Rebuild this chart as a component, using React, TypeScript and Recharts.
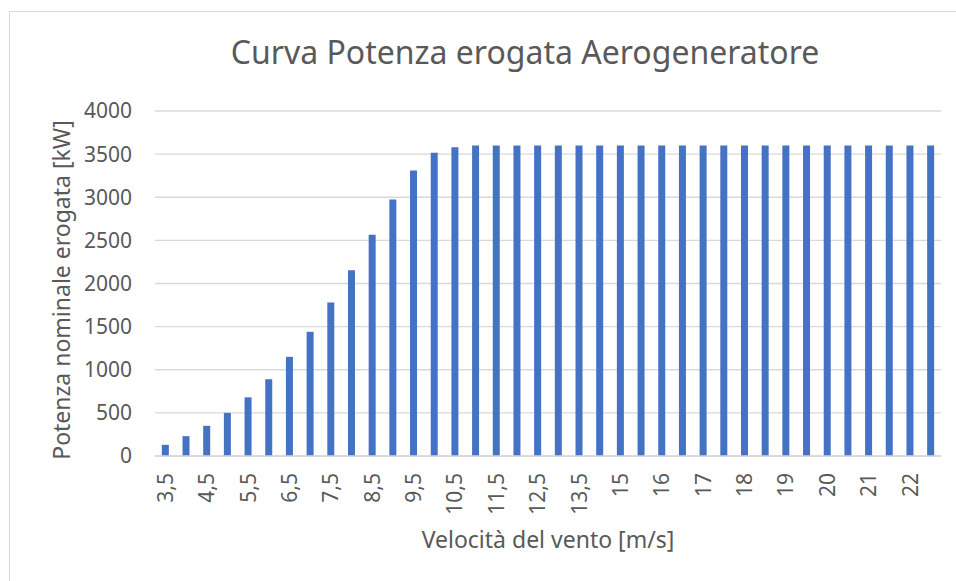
import React from 'react';
import { BarChart, Bar, XAxis, YAxis, CartesianGrid } from 'recharts';

// wind speed classes [m/s] and delivered power [kW]
const windSpeeds = [
  3.5, 4, 4.5, 5, 5.5, 6, 6.5, 7, 7.5, 8, 8.5, 9, 9.5, 10, 10.5, 11, 11.5, 12, 12.5, 13,
  13.5, 14, 15, 15.5, 16, 16.5, 17, 17.5, 18, 18.5, 19, 19.5, 20, 20.5, 21, 21.5, 22, 22.5,
];
const powerKw = [
  130, 230, 350, 500, 680, 890, 1150, 1440, 1780, 2155, 2565, 2975, 3310, 3515, 3580, 3600,
  3600, 3600, 3600, 3600, 3600, 3600, 3600, 3600, 3600, 3600, 3600, 3600, 3600, 3600, 3600,
  3600, 3600, 3600, 3600, 3600, 3600, 3600,
];
const yTicks = [0, 500, 1000, 1500, 2000, 2500, 3000, 3500, 4000];

const title = 'Curva Potenza erogata Aerogeneratore';
const xTitle = 'Velocità del vento [m/s]';
const yTitle = 'Potenza nominale erogata [kW]';

const FONT = '"Noto Sans", sans-serif';
const TEXT = '#595959';
const GRID = '#d9d9d9';

const data = windSpeeds.map((v, i) => ({ speed: v, power: powerKw[i] }));

const fmt = (v: number) => String(v).replace('.', ',');

const RotatedTick = (props: any) => {
  const { x, y, payload } = props;
  return (
    <text
      x={x}
      y={y}
      dy="0.36em"
      transform={`rotate(-90 ${x} ${y})`}
      textAnchor="end"
      fill={TEXT}
      fontSize={21}
      fontFamily={FONT}
    >
      {fmt(payload.value)}
    </text>
  );
};

export default function App() {
  return (
    <div style={{ position: 'absolute', left: 0, top: 0, width: 956, height: 581, overflow: 'hidden', background: '#fff' }}>
      <div
        style={{
          position: 'absolute', left: 9, top: 11, width: 1000, height: 700,
          borderLeft: `1.5px solid ${GRID}`, borderTop: `1.5px solid ${GRID}`,
        }}
      />
      <BarChart
        width={956}
        height={581}
        data={data}
        margin={{ top: 111, right: 15, bottom: 0, left: 0 }}
        barCategoryGap="33%"
        style={{ position: 'absolute', left: 0, top: 0 }}
      >
        <CartesianGrid vertical={false} stroke={GRID} strokeWidth={1.3} />
        <XAxis
          dataKey="speed"
          height={125}
          interval={1}
          tickLine={false}
          tickSize={0}
          tickMargin={17}
          axisLine={{ stroke: GRID, strokeWidth: 1.3 }}
          tick={<RotatedTick />}
        />
        <YAxis
          width={155}
          domain={[0, 4000]}
          ticks={yTicks}
          axisLine={false}
          tickLine={false}
          tickSize={0}
          tickMargin={23}
          tick={{ fill: TEXT, fontSize: 21, fontFamily: FONT }}
        />
        <Bar dataKey="power" fill="#4472C4" isAnimationActive={false} />
      </BarChart>
      <svg width={956} height={581} style={{ position: 'absolute', left: 0, top: 0, pointerEvents: 'none' }}>
        <text x={525} y={64} textAnchor="middle" fill={TEXT} fontSize={32} fontFamily={FONT}>
          {title}
        </text>
        <text x={548} y={548} textAnchor="middle" fill={TEXT} fontSize={23} fontFamily={FONT}>
          {xTitle}
        </text>
        <text
          x={70}
          y={290}
          transform="rotate(-90 70 290)"
          textAnchor="middle"
          fill={TEXT}
          fontSize={23}
          fontFamily={FONT}
        >
          {yTitle}
        </text>
      </svg>
    </div>
  );
}
